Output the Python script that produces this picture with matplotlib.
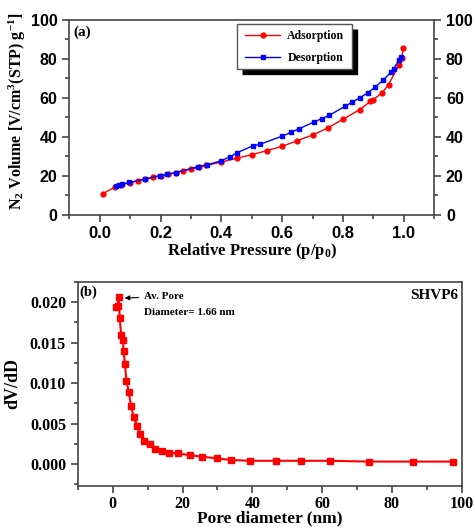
import numpy as np
import matplotlib
matplotlib.use('Agg')
import matplotlib.pyplot as plt
from matplotlib.ticker import MultipleLocator
from matplotlib.patches import Rectangle

plt.rcParams['mathtext.default'] = 'regular'

# isotherm (a)
ads_p = [0.01, 0.05, 0.07, 0.10, 0.125, 0.15, 0.175, 0.20, 0.225, 0.25, 0.275, 0.30, 0.325, 0.35,
         0.40, 0.45, 0.50, 0.55, 0.60, 0.65, 0.70, 0.75, 0.80, 0.855, 0.89, 0.90, 0.93, 0.95,
         0.985, 0.993, 0.999]
ads_v = [10.6, 14.2, 15.3, 16.4, 17.3, 18.1, 19.1, 19.8, 20.6, 21.5, 22.4, 23.3, 24.2, 25.2,
         26.9, 28.9, 30.7, 32.8, 35.0, 37.9, 40.8, 44.4, 48.9, 53.8, 58.0, 59.0, 62.6, 66.7,
         76.9, 80.5, 85.6]
des_p = [0.99, 0.985, 0.967, 0.958, 0.932, 0.906, 0.881, 0.856, 0.831, 0.806, 0.755, 0.73,
         0.705, 0.657, 0.628, 0.60, 0.528, 0.503, 0.453, 0.429, 0.40, 0.354, 0.324, 0.25,
         0.222, 0.198, 0.15, 0.097, 0.073, 0.062, 0.053]
des_v = [80.9, 79.5, 74.9, 73.1, 68.9, 65.4, 62.4, 60.0, 57.7, 55.5, 50.9, 49.2, 47.5, 44.1,
         42.1, 40.2, 36.1, 35.2, 31.8, 29.7, 27.6, 25.5, 24.6, 21.5, 20.7, 20.0, 18.2, 16.5,
         15.5, 14.9, 14.4]

# pore size distribution (b)
pore_d = [1.0, 1.4, 1.7, 2.0, 2.4, 2.9, 3.1, 3.5, 3.9, 4.6, 5.2, 6.0, 7.0, 7.9, 8.9, 10.6,
          12.2, 14.1, 16.2, 18.6, 22.2, 25.6, 29.9, 33.9, 39.2, 46.8, 54.0, 62.3, 73.3, 86.0, 97.6]
dvdd = [0.0194, 0.0195, 0.0206, 0.0180, 0.0159, 0.0153, 0.0140, 0.0123, 0.0103, 0.0089,
        0.0072, 0.0058, 0.0047, 0.0037, 0.0028, 0.0025, 0.0018, 0.0016, 0.0014, 0.0013,
        0.0011, 0.0009, 0.0007, 0.0005, 0.0004, 0.0004, 0.0004, 0.0004, 0.0003, 0.0003, 0.0003]

serif = 'Liberation Serif'
sans = 'Liberation Sans'
spine_c = '#444444'

fig = plt.figure(figsize=(4.75, 5.31), dpi=100)

# ---- (a)
ax1 = fig.add_axes([0.146, 0.596, 0.768, 0.367])
ax1.plot(ads_p, ads_v, '-o', color='red', ms=3.5, lw=1, label='Adsorption')
ax1.plot(des_p, des_v, '-s', color='blue', ms=3.5, lw=1, label='Desorption')
ax1.set_xlim(-0.1, 1.1)
ax1.set_ylim(0, 100)
ax1.set_xticks([0.0, 0.2, 0.4, 0.6, 0.8, 1.0])
ax1.set_xticklabels(['0.0', '0.2', '0.4', '0.6', '0.8', '1.0'], fontfamily=sans,
                    fontweight='bold', fontsize=12)
ax1.set_yticks([0, 20, 40, 60, 80, 100])
ax1.set_yticklabels(['0', '20', '40', '60', '80', '100'], fontfamily=sans,
                    fontweight='bold', fontsize=11.5)
ax1.xaxis.set_minor_locator(MultipleLocator(0.1))
ax1.yaxis.set_minor_locator(MultipleLocator(10))
ax1.tick_params(which='both', direction='out', right=True, labelright=True, top=False,
                colors=spine_c, labelcolor='black')
ax1.tick_params(which='major', length=5, width=1.2)
ax1.tick_params(which='minor', length=3, width=1.2)
for s in ax1.spines.values():
    s.set_color(spine_c)
    s.set_linewidth(1.2)
ax1.set_xlabel('Relative Pressure (p/p$_0$)', fontfamily=serif, fontweight='bold',
               fontsize=12, labelpad=0)
ax1.set_ylabel('N$_2$ Volume [V/cm$^3$(STP) g$^{-1}$]', fontfamily=serif, fontweight='bold',
               fontsize=11.5, labelpad=0)
ax1.yaxis.set_label_coords(-0.112, 0.53)
ax1.text(0.012, 0.97, '(a)', transform=ax1.transAxes, ha='left', va='top',
         fontfamily=serif, fontweight='bold', fontsize=11)

# legend box with a black drop shadow (drawn as thick lines on right / bottom)
bx0, by0, bw, bh = 0.46, 0.745, 0.315, 0.231
sx = 5 / (0.768 * 475)
sy = 5 / (0.367 * 531)
ax1.plot([bx0 + bw + sx / 2, bx0 + bw + sx / 2, bx0 + sx],
         [by0 + bh - sy, by0 - sy / 2, by0 - sy / 2],
         transform=ax1.transAxes, color='black', lw=3.8, solid_joinstyle='miter',
         solid_capstyle='butt', zorder=4, clip_on=False)
ax1.add_patch(Rectangle((bx0, by0), bw, bh, transform=ax1.transAxes,
                        facecolor='white', edgecolor='#555555', lw=1.0, zorder=4.5,
                        clip_on=False))
leg = ax1.legend(handles=ax1.lines[:2], loc='center', bbox_to_anchor=(bx0 + bw / 2, by0 + bh / 2),
                 frameon=False, prop={'family': serif, 'weight': 'bold', 'size': 8.5},
                 handlelength=3.0, labelspacing=0.85, handletextpad=0.6)
leg.set_zorder(5)

# ---- (b)
ax2 = fig.add_axes([0.164, 0.085, 0.808, 0.384])
ax2.plot(pore_d, dvdd, '-s', color='red', ms=4, lw=1.5)
ax2.set_xlim(-10, 100)
ax2.set_ylim(-0.0027, 0.0225)
ax2.set_yticks([0.0, 0.005, 0.010, 0.015, 0.020])
ax2.set_yticklabels(['0.000', '0.005', '0.010', '0.015', '0.020'], fontfamily=serif,
                    fontweight='bold', fontsize=11.5)
ax2.set_xticks([0, 20, 40, 60, 80, 100])
ax2.set_xticklabels(['0', '20', '40', '60', '80', '100'], fontfamily=serif,
                    fontweight='bold', fontsize=11.5)
ax2.xaxis.set_minor_locator(MultipleLocator(10))
ax2.yaxis.set_minor_locator(MultipleLocator(0.0025))
ax2.tick_params(which='both', direction='out', top=False, right=False,
                colors=spine_c, labelcolor='black')
ax2.tick_params(which='major', length=5, width=1.2)
ax2.tick_params(which='minor', length=3, width=1.2)
ax2.tick_params(axis='x', pad=2)
for s in ax2.spines.values():
    s.set_color(spine_c)
    s.set_linewidth(1.2)
ax2.set_xlabel('Pore diameter (nm)', fontfamily=serif, fontweight='bold', fontsize=12.5,
               labelpad=-1)
ax2.set_ylabel('dV/dD', fontfamily=serif, fontweight='bold', fontsize=13, labelpad=6)
ax2.text(0.005, 0.985, '(b)', transform=ax2.transAxes, ha='left', va='top',
         fontfamily=serif, fontweight='bold', fontsize=10.5)
ax2.text(0.99, 0.965, 'SHVP6', transform=ax2.transAxes, ha='right', va='top',
         fontfamily=serif, fontweight='bold', fontsize=11)
ax2.annotate('Av. Pore', xy=(2.6, 0.0205), xytext=(9.0, 0.0207), va='center', ha='left',
             fontfamily=serif, fontweight='bold', fontsize=8,
             arrowprops=dict(arrowstyle='-|>', color='black', lw=0.8, mutation_scale=7))
ax2.text(9.0, 0.0187, 'Diameter= 1.66 nm', va='center', ha='left',
         fontfamily=serif, fontweight='bold', fontsize=8)

fig.savefig('out.png', dpi=100)
